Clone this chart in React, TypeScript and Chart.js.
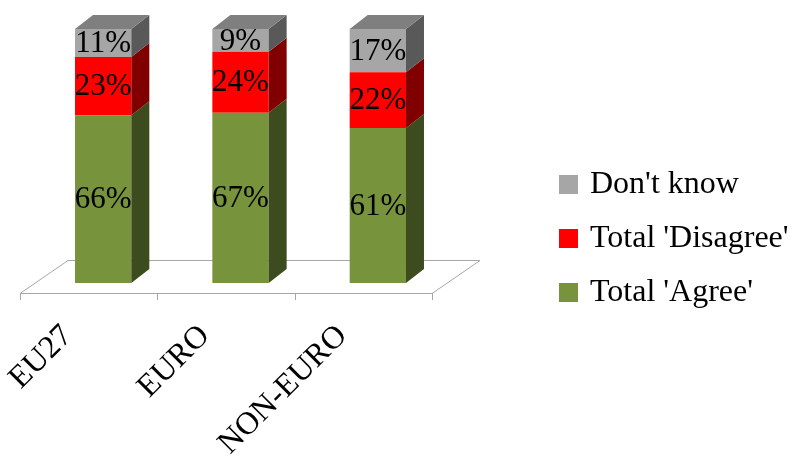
import React, { useEffect, useRef } from "react";
import { Chart, registerables } from "chart.js";

Chart.register(...registerables);

const categories = ["EU27", "EURO", "NON-EURO"];
const agreeValues = [66, 67, 61];
const disagreeValues = [23, 24, 22];
const dontKnowValues = [11, 9, 17];
const seriesNames = ["Total 'Agree'", "Total 'Disagree'", "Don't know"];
const legendOrder = [2, 1, 0];

const frontColors = ["#77933c", "#ff0000", "#a6a6a6"];
const sideColors = ["#3d4c1e", "#800000", "#595959"];
const topColor = "#7f7f7f";

const FONT_FAMILY = "'Liberation Serif', 'Times New Roman', serif";
const LABEL_FONT = "31px " + FONT_FAMILY;
const AXIS_FONT = "32px " + FONT_FAMILY;
const LEGEND_FONT = "32px " + FONT_FAMILY;
const BAR_DX = 18;
const BAR_DY = 14;
const SHIFT_X = 14.5;
const SHIFT_Y = 10;
const FLOOR_DX = 48;
const FLOOR_DY = 33;

const threeD = {
  id: "threeD",
  beforeDatasetsDraw(chart: any) {
    const ctx = chart.ctx;
    const x = chart.scales.x;
    const y = chart.scales.y;
    const step = x.getPixelForValue(1) - x.getPixelForValue(0);
    const half = step / 2;
    const fl = x.getPixelForValue(0) - half - SHIFT_X;
    const fr = x.getPixelForValue(categories.length - 1) + half - SHIFT_X;
    const fy = y.getPixelForValue(0) + SHIFT_Y;
    ctx.save();
    ctx.strokeStyle = "#a6a6a6";
    ctx.lineWidth = 1;
    ctx.fillStyle = "#ffffff";
    ctx.beginPath();
    ctx.moveTo(fl, fy + 0.5);
    ctx.lineTo(fr, fy + 0.5);
    ctx.lineTo(fr + FLOOR_DX, fy - FLOOR_DY + 0.5);
    ctx.lineTo(fl + FLOOR_DX, fy - FLOOR_DY + 0.5);
    ctx.closePath();
    ctx.fill();
    ctx.stroke();
    for (let i = 0; i <= categories.length; i++) {
      const tx = Math.round(fl + i * step) + 0.5;
      ctx.beginPath();
      ctx.moveTo(tx, fy);
      ctx.lineTo(tx, fy + 7);
      ctx.stroke();
    }
    ctx.fillStyle = "#000";
    ctx.font = AXIS_FONT;
    ctx.textAlign = "right";
    ctx.textBaseline = "middle";
    categories.forEach((c, i) => {
      const cx = x.getPixelForValue(i) - SHIFT_X - 21;
      ctx.save();
      ctx.translate(cx, fy + 38);
      ctx.rotate(-Math.PI / 4);
      ctx.fillText(c, 0, 0);
      ctx.restore();
    });
    ctx.restore();
  },
  afterDatasetsDraw(chart: any) {
    const ctx = chart.ctx;
    ctx.save();
    const n = chart.data.datasets.length;
    for (let d = 0; d < n; d++) {
      const meta = chart.getDatasetMeta(d);
      meta.data.forEach((el: any) => {
        const x2 = el.x + el.width / 2;
        const x1 = el.x - el.width / 2;
        const top = el.y;
        const bot = el.base;
        ctx.fillStyle = sideColors[d];
        ctx.beginPath();
        ctx.moveTo(x2, top);
        ctx.lineTo(x2 + BAR_DX, top - BAR_DY);
        ctx.lineTo(x2 + BAR_DX, bot - BAR_DY);
        ctx.lineTo(x2, bot);
        ctx.closePath();
        ctx.fill();
        if (d === n - 1) {
          ctx.fillStyle = topColor;
          ctx.beginPath();
          ctx.moveTo(x1, top);
          ctx.lineTo(x2, top);
          ctx.lineTo(x2 + BAR_DX, top - BAR_DY);
          ctx.lineTo(x1 + BAR_DX, top - BAR_DY);
          ctx.closePath();
          ctx.fill();
        }
      });
    }
    ctx.fillStyle = "#000";
    ctx.font = LABEL_FONT;
    ctx.textAlign = "center";
    ctx.textBaseline = "middle";
    for (let d = 0; d < n; d++) {
      const meta = chart.getDatasetMeta(d);
      const vals = chart.data.datasets[d].data;
      meta.data.forEach((el: any, i: number) => {
        ctx.fillText(vals[i] + "%", el.x, (el.y + el.base) / 2 + 1);
      });
    }
    const rows = [184, 238, 292];
    ctx.textAlign = "left";
    ctx.font = LEGEND_FONT;
    legendOrder.forEach((d, r) => {
      ctx.fillStyle = frontColors[d];
      ctx.fillRect(559, rows[r] - 9, 19, 19);
      ctx.fillStyle = "#000";
      ctx.fillText(seriesNames[d], 590, rows[r] + 1);
    });
    ctx.restore();
  },
};

export default function App() {
  const ref = useRef<HTMLCanvasElement>(null);
  useEffect(() => {
    if (!ref.current) return;
    const values = [agreeValues, disagreeValues, dontKnowValues];
    const chart = new Chart(ref.current, {
      type: "bar",
      data: {
        labels: categories,
        datasets: values.map((v, i) => ({
          label: seriesNames[i],
          data: v,
          backgroundColor: frontColors[i],
          borderWidth: 0,
          categoryPercentage: 1,
          barPercentage: 0.41,
        })),
      },
      options: {
        responsive: false,
        animation: false,
        layout: { padding: { left: 34.5, right: 794 - 446.5, top: 29, bottom: 461 - 283 } },
        plugins: { legend: { display: false }, tooltip: { enabled: false } },
        scales: {
          x: { stacked: true, display: false },
          y: { stacked: true, display: false, min: 0, max: 100 },
        },
      },
      plugins: [threeD],
    });
    return () => chart.destroy();
  }, []);
  return (
    <div style={{ position: "fixed", left: 0, top: 0, width: 794, height: 461, background: "#fff" }}>
      <canvas ref={ref} width={794} height={461} />
    </div>
  );
}
